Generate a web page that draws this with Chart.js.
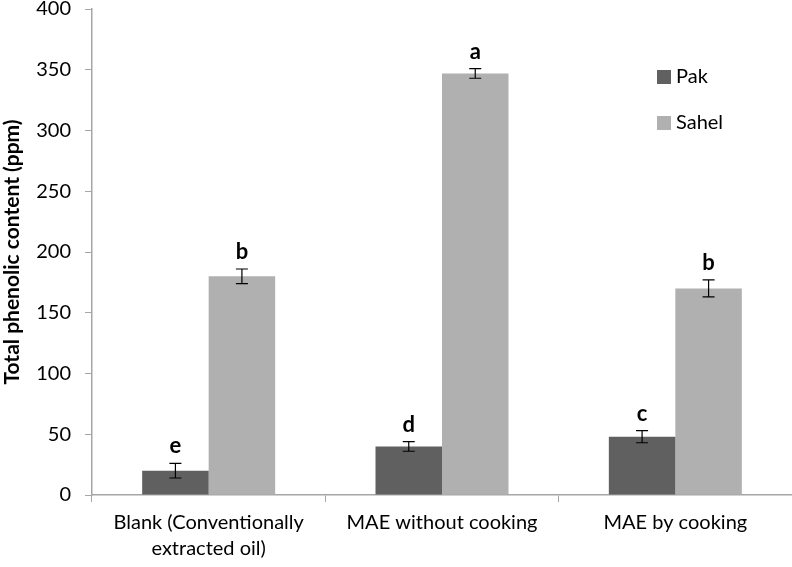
<!DOCTYPE html>
<html>
<head>
<meta charset="utf-8">
<script src="https://cdn.jsdelivr.net/npm/chart.js@4.4.1/dist/chart.umd.min.js"></script>
<style>
  html, body { margin: 0; padding: 0; background: #fff; }
  #wrap { width: 792px; height: 567px; position: relative; }
</style>
</head>
<body>
<div id="wrap"><canvas id="chart"></canvas></div>
<script>
// values
const categories = [["Blank (Conventionally", "extracted oil)"], "MAE without cooking", "MAE by cooking"];
const pakValues = [20, 40, 48];
const pakErrors = [6, 4, 5];
const pakLetters = ["e", "d", "c"];
const sahelValues = [180, 347, 170];
const sahelErrors = [6, 4, 7];
const sahelLetters = ["b", "a", "b"];
const yTicks = [0, 50, 100, 150, 200, 250, 300, 350, 400];

const FONT = "Lato, 'Open Sans', sans-serif";

// error bars + significance letters
const errorBarPlugin = {
  id: 'errorBars',
  afterDatasetsDraw(chart) {
    const ctx = chart.ctx;
    const y = chart.scales.y;
    chart.data.datasets.forEach((ds, i) => {
      const meta = chart.getDatasetMeta(i);
      meta.data.forEach((bar, j) => {
        const v = ds.data[j], e = ds.errors[j];
        const top = y.getPixelForValue(v + e);
        const bot = y.getPixelForValue(v - e);
        ctx.save();
        ctx.strokeStyle = '#000';
        ctx.lineWidth = 1.2;
        ctx.beginPath();
        ctx.moveTo(bar.x, top); ctx.lineTo(bar.x, bot);
        ctx.moveTo(bar.x - 6, top); ctx.lineTo(bar.x + 6, top);
        ctx.moveTo(bar.x - 6, bot); ctx.lineTo(bar.x + 6, bot);
        ctx.stroke();
        ctx.fillStyle = '#000';
        ctx.font = "bold 22px " + FONT;
        ctx.textAlign = 'center';
        ctx.textBaseline = 'alphabetic';
        ctx.fillText(ds.letters[j], bar.x, top - 10);
        ctx.restore();
      });
    });
  }
};

// legend drawn inside the plot, top right
const sideLegend = {
  id: 'sideLegend',
  afterDraw(chart) {
    const ctx = chart.ctx;
    chart.data.datasets.forEach((ds, i) => {
      const yy = 77 + i * 46;
      ctx.save();
      ctx.fillStyle = ds.backgroundColor;
      ctx.fillRect(657, yy - 7, 14, 14);
      ctx.fillStyle = '#000';
      ctx.font = "20px " + FONT;
      ctx.textBaseline = 'middle';
      ctx.textAlign = 'left';
      ctx.fillText(ds.label, 676, yy);
      ctx.restore();
    });
  }
};

new Chart(document.getElementById('chart'), {
  type: 'bar',
  data: {
    labels: categories,
    datasets: [
      { label: 'Pak', data: pakValues, errors: pakErrors, letters: pakLetters,
        backgroundColor: '#606060', categoryPercentage: 0.57, barPercentage: 1.0 },
      { label: 'Sahel', data: sahelValues, errors: sahelErrors, letters: sahelLetters,
        backgroundColor: '#b0b0b0', categoryPercentage: 0.57, barPercentage: 1.0 }
    ]
  },
  options: {
    responsive: true,
    maintainAspectRatio: false,
    animation: false,
    layout: { padding: { top: 9, right: 0, left: 0, bottom: 0 } },
    plugins: {
      legend: { display: false },
      tooltip: { enabled: false }
    },
    scales: {
      x: {
        grid: { drawOnChartArea: false, color: '#a6a6a6', tickLength: 7, offset: true },
        border: { color: '#a6a6a6', width: 1.5 },
        ticks: { color: '#000', font: { family: FONT, size: 20, lineHeight: 1.3 }, maxRotation: 0, padding: 8 },
        afterFit(scale) { scale.height = 72; }
      },
      y: {
        min: 0, max: 400,
        afterBuildTicks(scale) { scale.ticks = yTicks.map(v => ({ value: v })); },
        grid: { drawOnChartArea: false, color: '#a6a6a6', tickLength: 7 },
        border: { color: '#a6a6a6', width: 1.5 },
        ticks: { color: '#000', font: { family: FONT, size: 20 }, padding: 14 },
        title: {
          display: true,
          text: 'Total phenolic content (ppm)',
          color: '#000',
          font: { family: FONT, size: 21, weight: 'bold' },
          padding: { top: 0, bottom: 4 }
        },
        afterFit(scale) {
          scale.width = 92;
          scale.paddingTop = 0;
          scale.paddingBottom = 0;
        }
      }
    }
  },
  plugins: [errorBarPlugin, sideLegend]
});
</script>
</body>
</html>
